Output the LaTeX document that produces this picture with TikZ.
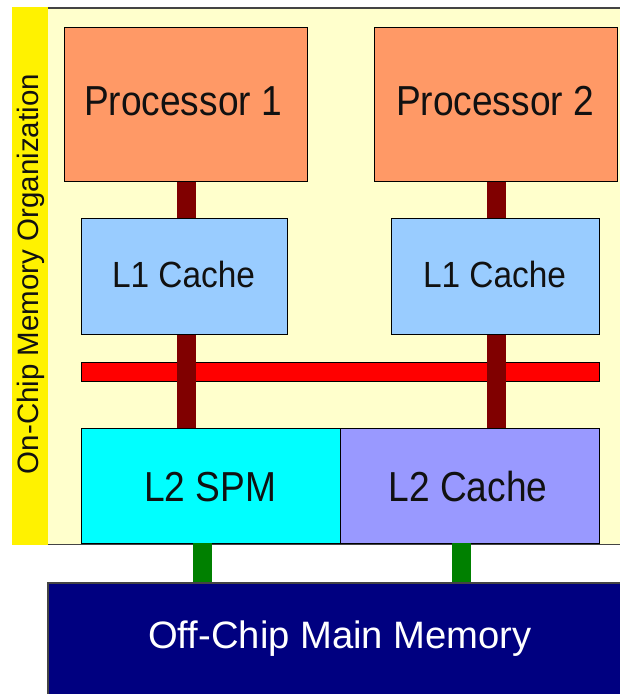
\documentclass[tikz,border=0pt]{standalone}
\usepackage{graphicx}
\usepackage{fontspec}
\setmainfont{Liberation Sans}
\definecolor{cream}{HTML}{FFFFCC}
\definecolor{procorange}{HTML}{FF9966}
\definecolor{lonecol}{HTML}{99CCFF}
\definecolor{spmcol}{HTML}{00FFFF}
\definecolor{ltwocol}{HTML}{9999FF}
\definecolor{buscol}{HTML}{FF0000}
\definecolor{linkred}{HTML}{800000}
\definecolor{linkgreen}{HTML}{008000}
\definecolor{memcol}{HTML}{000080}
\definecolor{framegray}{HTML}{444444}
\definecolor{txtcol}{HTML}{111111}
\tikzset{
  boxshape/.style={draw=black, line width=1.3pt, rectangle, inner sep=0pt, anchor=north west},
  lab/.style={inner sep=0pt, anchor=base, text=txtcol},
  redlink/.style={draw=linkred, line width=19pt},
  greenlink/.style={draw=linkgreen, line width=19pt},
  frameline/.style={draw=framegray, line width=1.8pt},
}
\begin{document}
\begin{tikzpicture}[x=1pt,y=-1pt]
\useasboundingbox (0,0) rectangle (620,694);
\begin{scope}
\clip (0,0) rectangle (620,694);
\fill[white] (0,0) rectangle (620,694);
% on-chip area
\node[fill=cream, rectangle, inner sep=0pt, anchor=north west,
  minimum width=600pt, minimum height=536pt] (chip) at (48,8) {};
\draw[frameline] (chip.north west) -- (chip.north east);
\draw[frameline] (chip.south west) -- (chip.south east);
\fill[yellow] (12,7) rectangle (48,545);
\node[inner sep=0pt, anchor=base, rotate=90, text=txtcol, font=\fontsize{29.5}{32}\selectfont] (chiplab) at (38,274) {On-Chip Memory Organization};
% processors
\node[boxshape, fill=procorange, minimum width=243pt, minimum height=154pt] (p1) at (64,27) {};
\node[boxshape, fill=procorange, minimum width=243pt, minimum height=154pt] (p2) at (374,27) {};
% L1 caches
\node[boxshape, fill=lonecol, minimum width=206pt, minimum height=116pt] (l1a) at (81,218) {};
\node[boxshape, fill=lonecol, minimum width=208pt, minimum height=116pt] (l1b) at (391,218) {};
% bus
\node[boxshape, fill=buscol, minimum width=518pt, minimum height=19pt] (bus) at (81,362) {};
% L2
\node[boxshape, fill=spmcol, minimum width=259pt, minimum height=115pt] (spm) at (81,428) {};
\node[boxshape, fill=ltwocol, minimum width=259pt, minimum height=115pt] (ltwo) at (340,428) {};
% connectors
\draw[redlink] (p1.south) -- (p1.south |- l1a.north);
\draw[redlink] (l1a.south -| p1.south) -- (spm.north -| p1.south);
\draw[redlink] (p2.south) -- (p2.south |- l1b.north);
\draw[redlink] (l1b.south -| p2.south) -- (ltwo.north -| p2.south);
% off-chip memory
\node[draw=framegray, line width=1.5pt, fill=memcol, rectangle, inner sep=0pt, anchor=north west,
  minimum width=600pt, minimum height=140pt] (mem) at (47,582) {};
\coordinate (ga) at (202.5,543);
\coordinate (gb) at (461.5,543);
\draw[greenlink] (ga) -- (ga |- mem.north);
\draw[greenlink] (gb) -- (gb |- mem.north);
% labels
\node[lab, font=\fontsize{37.1}{40}\selectfont] (p1lab) at (183,115) {\scalebox{1}[1.13]{Processor 1}};
\node[lab, font=\fontsize{37.1}{40}\selectfont] (p2lab) at (495,115) {\scalebox{1}[1.13]{Processor 2}};
\node[lab, font=\fontsize{33.4}{36}\selectfont] (l1alab) at (183.5,287) {\scalebox{1}[1.09]{L1 Cache}};
\node[lab, font=\fontsize{33.4}{36}\selectfont] (l1blab) at (494.5,287) {\scalebox{1}[1.09]{L1 Cache}};
\node[lab, font=\fontsize{37.1}{40}\selectfont] (spmlab) at (210,501) {\scalebox{1}[1.13]{L2 SPM}};
\node[lab, font=\fontsize{37.1}{40}\selectfont] (ltwolab) at (468,501) {\scalebox{1}[1.13]{L2 Cache}};
\node[lab, text=white, font=\fontsize{38.2}{41}\selectfont] (memlab) at (340,648) {Off-Chip Main Memory};
\end{scope}
\end{tikzpicture}
\end{document}
